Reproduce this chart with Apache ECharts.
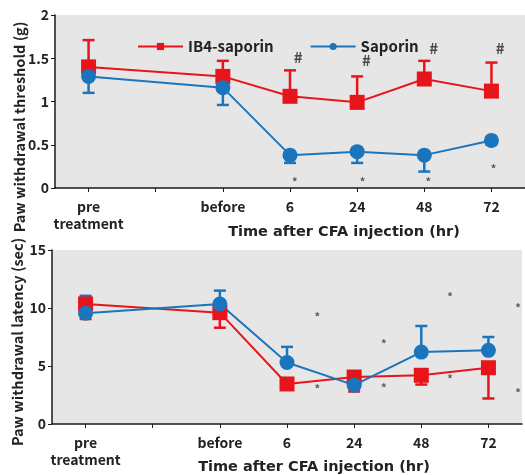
<!DOCTYPE html>
<html>
<head>
<meta charset="utf-8">
<script src="https://cdn.jsdelivr.net/npm/echarts@6/dist/echarts.min.js"></script>
<style>
  html, body { margin: 0; padding: 0; background: #fff; }
  #main { width: 525px; height: 475px; }
</style>
</head>
<body>
<div id="main"></div>
<script>
// categories (one empty slot between "pre treatment" and "before")
const categories = ['pre\ntreatment', '', 'before', '6', '24', '48', '72'];

// top panel: paw withdrawal threshold (g)
const ib4Threshold = [1.40, null, 1.29, 1.06, 0.99, 1.26, 1.12];
const ib4ThresholdErr = [0.31, null, 0.18, 0.30, 0.30, 0.21, 0.33];   // drawn upward
const sapThreshold = [1.29, null, 1.16, 0.38, 0.42, 0.38, 0.55];
const sapThresholdErr = [0.19, null, 0.20, 0.09, 0.13, 0.19, 0.05];   // drawn downward

// bottom panel: paw withdrawal latency (sec)
const ib4Latency = [10.35, null, 9.6, 3.45, 4.05, 4.2, 4.85];
const ib4LatencyErr = [1.3, null, 1.3, 0.45, 1.25, 0.8, 2.65];        // drawn downward
const sapLatency = [9.55, null, 10.35, 5.3, 3.35, 6.2, 6.35];
const sapLatencyErr = [1.5, null, 1.15, 1.35, 0.3, 2.25, 1.15];       // drawn upward

const thresholdTicks = [0, 0.5, 1, 1.5, 2];
const latencyTicks = [0, 5, 10, 15];

// significance marks, [x position in category units (0..7), y value, text]
const topMarks = [
  [3.62, 1.51, '#'], [4.64, 1.48, '#'], [5.64, 1.61, '#'], [6.63, 1.61, '#'],
  [3.57, 0.07, '*'], [4.58, 0.07, '*'], [5.56, 0.07, '*'], [6.53, 0.22, '*']
];
const bottomMarks = [
  [3.95, 9.25, '*'], [3.95, 3.0, '*'], [4.94, 6.9, '*'], [4.94, 3.1, '*'],
  [5.93, 11.0, '*'], [5.93, 3.9, '*'], [6.94, 10.0, '*'], [6.94, 2.7, '*']
];

const RED = '#e8141b';
const BLUE = '#1b75bc';
const FONT = "'Noto Sans CJK JP', 'Noto Sans', sans-serif";
const WIDE = "'DejaVu Sans', sans-serif";

function errData(vals, errs, dir) {
  const out = [];
  vals.forEach((v, i) => {
    if (v != null) out.push([i, v, errs[i], dir]);
  });
  return out;
}

function errSeries(vals, errs, dir, color, idx) {
  return {
    type: 'custom',
    xAxisIndex: idx * 2,
    yAxisIndex: idx,
    z: 1,
    silent: true,
    data: errData(vals, errs, dir),
    renderItem: function (params, api) {
      const x = api.value(0);
      const v = api.value(1);
      const e = api.value(2) * api.value(3);
      const p0 = api.coord([x, v]);
      const p1 = api.coord([x, v + e]);
      const half = 6;
      return {
        type: 'group',
        children: [
          { type: 'line', shape: { x1: p0[0], y1: p0[1], x2: p1[0], y2: p1[1] },
            style: { stroke: color, lineWidth: 2.5 } },
          { type: 'line', shape: { x1: p1[0] - half, y1: p1[1], x2: p1[0] + half, y2: p1[1] },
            style: { stroke: color, lineWidth: 2.5 } }
        ]
      };
    }
  };
}

function lineSeries(name, vals, color, symbol, size, idx) {
  return {
    name: name,
    type: 'line',
    xAxisIndex: idx * 2,
    yAxisIndex: idx,
    data: vals,
    connectNulls: true,
    symbol: symbol,
    symbolSize: size,
    z: 3,
    lineStyle: { color: color, width: 2 },
    itemStyle: { color: color, opacity: 1 }
  };
}

function markSeries(marks, idx) {
  return {
    type: 'scatter',
    xAxisIndex: idx * 2 + 1,
    yAxisIndex: idx,
    silent: true,
    symbolSize: 1,
    itemStyle: { color: 'transparent' },
    z: 4,
    data: marks.map(m => ({
      value: [m[0], m[1]],
      text: m[2],
      label: m[2] === '#' ? { fontSize: 15, color: '#222' } : { fontSize: 11, color: '#333' }
    })),
    label: {
      show: true,
      position: 'inside',
      formatter: p => p.data.text,
      fontFamily: FONT,
      fontWeight: 'bold'
    }
  };
}

function catAxis(idx) {
  return {
    type: 'category',
    gridIndex: idx,
    data: categories,
    axisLine: { show: true, lineStyle: { color: '#1a1a1a', width: 1.5 } },
    axisTick: { show: true, alignWithLabel: true, interval: 0, length: 4, lineStyle: { color: '#1a1a1a' } },
    axisLabel: {
      interval: 0, margin: 10, color: '#222', fontFamily: FONT,
      fontWeight: 'bold', fontSize: 14, lineHeight: 17
    },
    splitLine: { show: false }
  };
}

function hiddenAxis(idx) {
  return { type: 'value', gridIndex: idx, min: 0, max: 7, show: false, position: 'top' };
}

function valAxis(idx, ticks) {
  return {
    type: 'value',
    gridIndex: idx,
    min: ticks[0],
    max: ticks[ticks.length - 1],
    interval: ticks[1] - ticks[0],
    axisLine: { show: true, lineStyle: { color: '#1a1a1a', width: 1.5 } },
    axisTick: { show: true, length: 4, lineStyle: { color: '#1a1a1a' } },
    axisLabel: { margin: 6, color: '#222', fontFamily: FONT, fontWeight: 'bold', fontSize: 14 },
    splitLine: { show: false }
  };
}

const chart = echarts.init(document.getElementById('main'));
chart.setOption({
  animation: false,
  backgroundColor: '#fff',
  grid: [
    { left: 55, top: 15, width: 472, height: 173, show: true, backgroundColor: '#e6e6e6', borderWidth: 0 },
    { left: 52, top: 250, width: 470, height: 174, show: true, backgroundColor: '#e6e6e6', borderWidth: 0 }
  ],
  legend: {
    left: 132,
    top: 34,
    itemWidth: 45,
    itemHeight: 9,
    itemGap: 36,
    data: ['IB4-saporin', 'Saporin'],
    textStyle: { color: '#222', fontFamily: FONT, fontWeight: 'bold', fontSize: 15 }
  },
  xAxis: [catAxis(0), hiddenAxis(0), catAxis(1), hiddenAxis(1)],
  yAxis: [valAxis(0, thresholdTicks), valAxis(1, latencyTicks)],
  graphic: [
    { type: 'text', x: 19, y: 127, rotation: Math.PI / 2,
      style: { text: 'Paw withdrawal threshold (g)', fill: '#222', font: 'bold 14.5px ' + FONT,
        textAlign: 'center', textVerticalAlign: 'middle' } },
    { type: 'text', x: 17, y: 342, rotation: Math.PI / 2,
      style: { text: 'Paw withdrawal latency (sec)', fill: '#222', font: 'bold 14.5px ' + FONT,
        textAlign: 'center', textVerticalAlign: 'middle' } },
    { type: 'text', x: 344, y: 232,
      style: { text: 'Time after CFA injection (hr)', fill: '#222', font: 'bold 14.5px ' + WIDE,
        textAlign: 'center', textVerticalAlign: 'middle' } },
    { type: 'text', x: 314, y: 467,
      style: { text: 'Time after CFA injection (hr)', fill: '#222', font: 'bold 14.5px ' + WIDE,
        textAlign: 'center', textVerticalAlign: 'middle' } }
  ],
  series: [
    errSeries(ib4Threshold, ib4ThresholdErr, 1, RED, 0),
    errSeries(sapThreshold, sapThresholdErr, -1, BLUE, 0),
    lineSeries('IB4-saporin', ib4Threshold, RED, 'rect', 15, 0),
    lineSeries('Saporin', sapThreshold, BLUE, 'circle', 15, 0),
    markSeries(topMarks, 0),
    errSeries(ib4Latency, ib4LatencyErr, -1, RED, 1),
    errSeries(sapLatency, sapLatencyErr, 1, BLUE, 1),
    lineSeries('IB4-saporin ', ib4Latency, RED, 'rect', 15, 1),
    lineSeries('Saporin ', sapLatency, BLUE, 'circle', 15, 1),
    markSeries(bottomMarks, 1)
  ]
});
</script>
</body>
</html>
